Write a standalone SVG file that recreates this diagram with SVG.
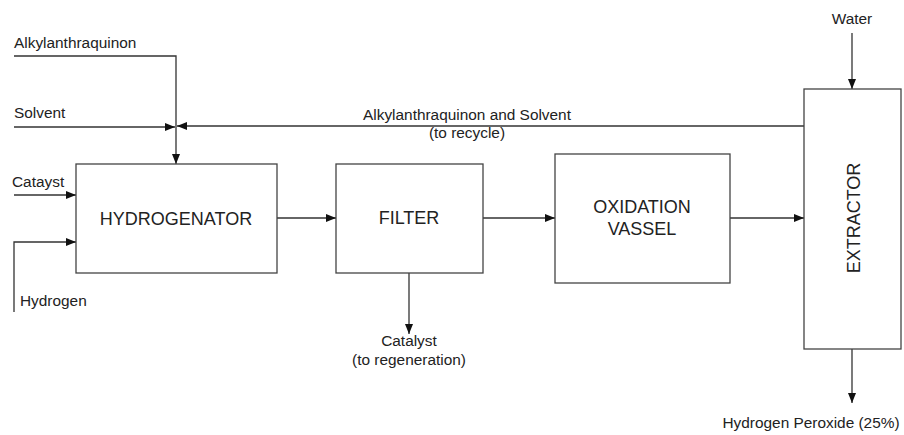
<svg xmlns="http://www.w3.org/2000/svg" width="904" height="435" viewBox="0 0 904 435">
<style>
text{font-family:"Liberation Sans",Arial,sans-serif;fill:#222}
.lbl{font-size:15.4px}
.box{font-size:18px;text-anchor:middle}
.mid{text-anchor:middle}
.node rect{fill:#fff;stroke:#444;stroke-width:1.3}
#connectors path{fill:none;stroke:#333;stroke-width:1.3}
</style>
<defs>
<marker id="ah" viewBox="0 0 10 8" refX="10" refY="4" markerWidth="10" markerHeight="8" markerUnits="userSpaceOnUse" orient="auto">
<path d="M0,0 L10,4 L0,8 z" fill="#111"/>
</marker>
</defs>
<rect width="904" height="435" fill="#fff"/>
<g id="connectors">
<path d="M14,56 H176 V164" marker-end="url(#ah)"/>
<path d="M14,127 H175" marker-end="url(#ah)"/>
<path d="M804,126 H177" marker-end="url(#ah)"/>
<path d="M14,195 H76" marker-end="url(#ah)"/>
<path d="M14,312 V242 H76" marker-end="url(#ah)"/>
<path d="M277,218 H336" marker-end="url(#ah)"/>
<path d="M483,218 H555" marker-end="url(#ah)"/>
<path d="M409,273 V334" marker-end="url(#ah)"/>
<path d="M730,218 H804" marker-end="url(#ah)"/>
<path d="M852,33 V89" marker-end="url(#ah)"/>
<path d="M852,349 V403" marker-end="url(#ah)"/>
</g>
<g id="labels">
<text class="lbl" x="14" y="48">Alkylanthraquinon</text>
<text class="lbl" x="14" y="118">Solvent</text>
<text class="lbl" x="12" y="187">Catayst</text>
<text class="lbl" x="20" y="306">Hydrogen</text>
<text class="lbl mid" x="467" y="120">Alkylanthraquinon and Solvent</text>
<text class="lbl mid" x="467" y="138">(to recycle)</text>
<text class="lbl mid" x="409" y="346">Catalyst</text>
<text class="lbl mid" x="409" y="365">(to regeneration)</text>
<text class="lbl mid" x="852" y="24">Water</text>
<text class="lbl mid" x="811" y="428">Hydrogen Peroxide (25%)</text>
</g>
<g id="hydrogenator" class="node">
<rect x="76" y="164" width="201" height="109"/>
<text class="box" x="176" y="225">HYDROGENATOR</text>
</g>
<g id="filter" class="node">
<rect x="336" y="164" width="147" height="109"/>
<text class="box" x="409" y="224">FILTER</text>
</g>
<g id="oxidation" class="node">
<rect x="555" y="154" width="175" height="129"/>
<text class="box" x="642" y="213">OXIDATION</text>
<text class="box" x="642" y="235">VASSEL</text>
</g>
<g id="extractor" class="node">
<rect x="804" y="89" width="97" height="260"/>
<text class="box" transform="translate(860,218) rotate(-90)">EXTRACTOR</text>
</g>
</svg>
